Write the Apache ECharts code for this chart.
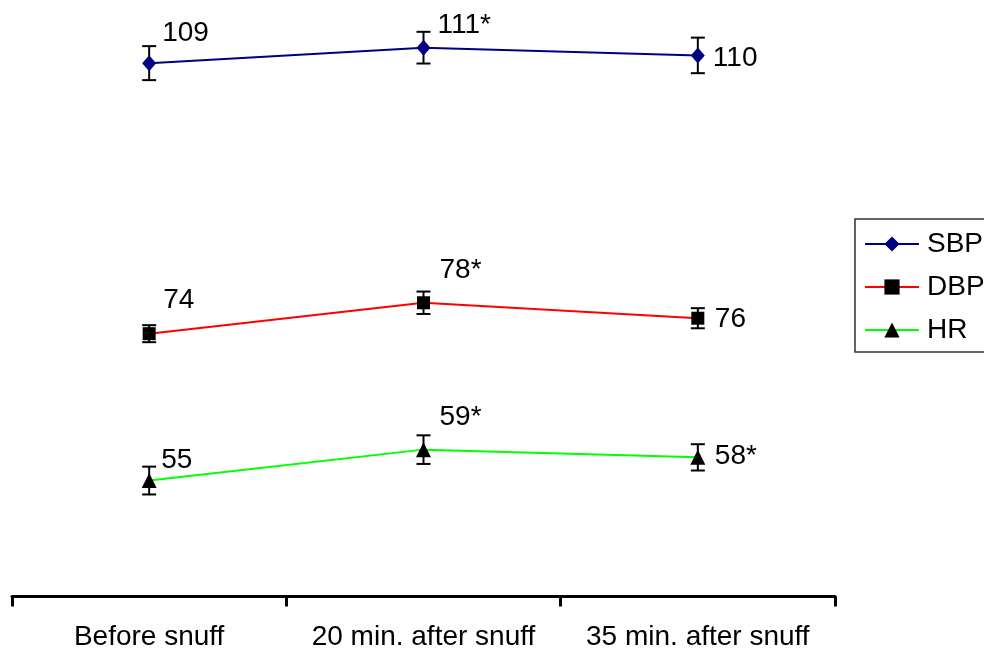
<!DOCTYPE html>
<html>
<head>
<meta charset="utf-8">
<script src="https://cdn.jsdelivr.net/npm/echarts@6/dist/echarts.min.js"></script>
<style>
  html, body { margin: 0; padding: 0; background: #fff; }
  #chart { width: 984px; height: 653px; }
</style>
</head>
<body>
<div id="chart"></div>
<script>
// Time points
const categories = ['Before snuff', '20 min. after snuff', '35 min. after snuff'];

// Means (mmHg for blood pressure, beats/min for heart rate)
const sbp = [109, 111, 110];
const dbp = [74, 78, 76];
const hr = [55, 59, 58];

// Standard errors of the mean
const sbpErr = [2.2, 2.05, 2.3];
const dbpErr = [1.1, 1.45, 1.3];
const hrErr = [1.8, 1.85, 1.7];

// Significant change from baseline (marked with *)
const sbpSig = [false, true, false];
const dbpSig = [false, true, false];
const hrSig = [false, true, true];

const FONT = '"Liberation Sans", Arial, Helvetica, sans-serif';
const FONT_SIZE = 28;

// Where each value label sits relative to its point
const sbpLabelOffsets = [[13, -30], [14, -22], [15, 3]];
const dbpLabelOffsets = [[14, -33], [16, -32], [17, 1]];
const hrLabelOffsets = [[12, -20], [16, -32], [17, -1]];

function pointData(values, offsets) {
  return values.map((v, i) => ({ value: v, label: { offset: offsets[i] } }));
}

function lineSeries(name, values, sig, offsets, lineColor, markerColor, symbol, symbolSize) {
  return {
    name: name,
    type: 'line',
    z: 3,
    data: pointData(values, offsets),
    symbol: symbol,
    symbolSize: symbolSize,
    itemStyle: { color: markerColor },
    lineStyle: { color: lineColor, width: 2 },
    emphasis: { disabled: true },
    label: {
      show: true,
      position: 'inside',
      align: 'left',
      verticalAlign: 'middle',
      color: '#000',
      fontSize: FONT_SIZE,
      fontFamily: FONT,
      formatter: p => p.value + (sig[p.dataIndex] ? '*' : '')
    }
  };
}

function errorSeries(values, errs) {
  return {
    type: 'custom',
    z: 1,
    silent: true,
    encode: { x: 0, y: [1, 2] },
    data: values.map((v, i) => [i, v - errs[i], v + errs[i]]),
    renderItem(params, api) {
      const lo = api.coord([api.value(0), api.value(1)]);
      const hi = api.coord([api.value(0), api.value(2)]);
      const half = 7;
      const style = { stroke: '#000', lineWidth: 2 };
      return {
        type: 'group',
        children: [
          { type: 'line', shape: { x1: lo[0], y1: lo[1], x2: hi[0], y2: hi[1] }, style: style },
          { type: 'line', shape: { x1: lo[0] - half, y1: lo[1], x2: lo[0] + half, y2: lo[1] }, style: style },
          { type: 'line', shape: { x1: hi[0] - half, y1: hi[1], x2: hi[0] + half, y2: hi[1] }, style: style }
        ]
      };
    }
  };
}

const chart = echarts.init(document.getElementById('chart'), null, { renderer: 'canvas' });

chart.setOption({
  animation: false,
  backgroundColor: '#fff',
  grid: {
    left: 12,
    right: 149,
    top: 16.75,
    bottom: 56.5,
    containLabel: false,
    outerBoundsMode: 'none'
  },
  legend: {
    data: ['SBP', 'DBP', 'HR'],
    orient: 'vertical',
    left: 855,
    top: 219,
    padding: [10, 30, 7, 9],
    itemWidth: 54,
    itemHeight: 19,
    itemGap: 13,
    borderColor: '#333',
    borderWidth: 1.5,
    selectedMode: false,
    textStyle: {
      color: '#000',
      fontSize: FONT_SIZE,
      fontFamily: FONT,
      lineHeight: 30,
      padding: [0, 0, 0, 3]
    }
  },
  xAxis: {
    type: 'category',
    data: categories,
    boundaryGap: true,
    axisLine: { lineStyle: { color: '#000', width: 3 } },
    axisTick: { show: true, length: 10, lineStyle: { color: '#000', width: 3 } },
    axisLabel: {
      color: '#000',
      fontSize: FONT_SIZE,
      fontFamily: FONT,
      margin: 27,
      interval: 0
    },
    splitLine: { show: false }
  },
  yAxis: {
    type: 'value',
    min: 40,
    max: 115,
    show: false
  },
  series: [
    errorSeries(sbp, sbpErr),
    errorSeries(dbp, dbpErr),
    errorSeries(hr, hrErr),
    lineSeries('SBP', sbp, sbpSig, sbpLabelOffsets, '#000080', '#000080', 'diamond', [14, 16]),
    lineSeries('DBP', dbp, dbpSig, dbpLabelOffsets, '#ff0000', '#000', 'rect', 13),
    lineSeries('HR', hr, hrSig, hrLabelOffsets, '#00ff00', '#000', 'triangle', 15)
  ]
});
</script>
</body>
</html>
